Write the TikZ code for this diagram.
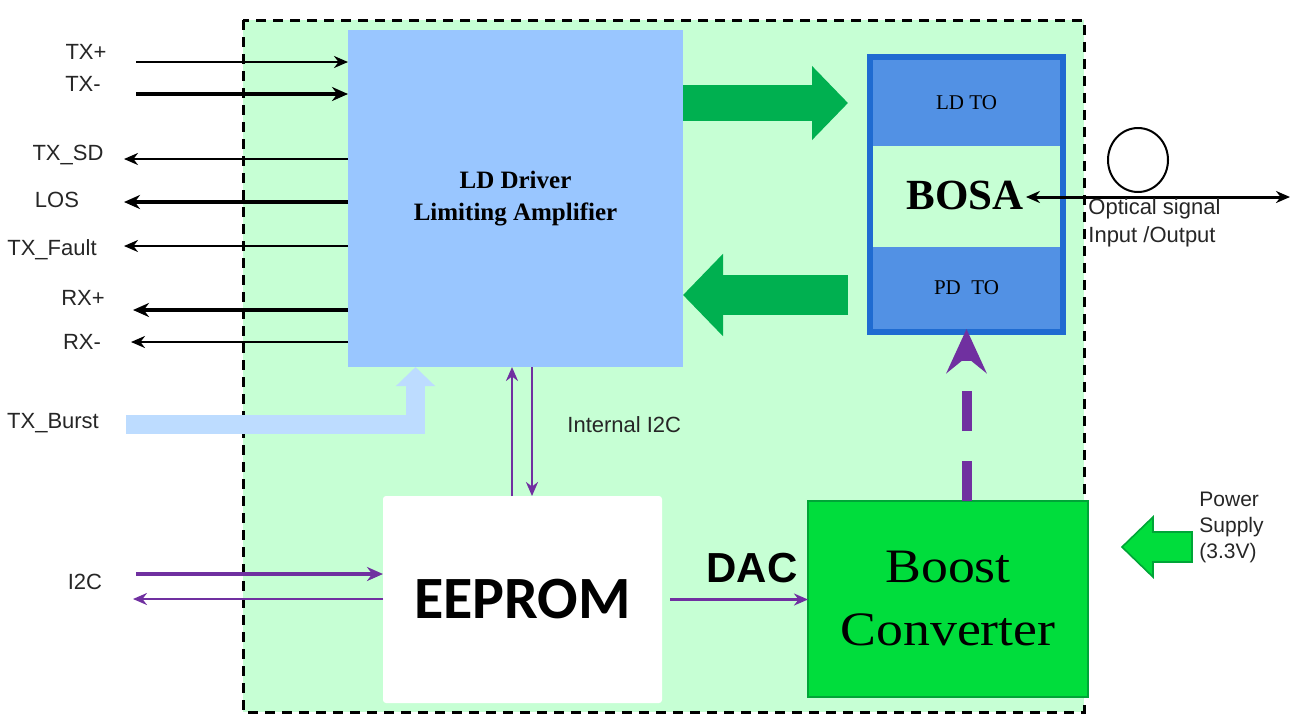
\documentclass[tikz,border=0pt]{standalone}
\usepackage{fontspec}
\setmainfont{Liberation Serif}
\setsansfont{Liberation Sans}
\newfontfamily\calibfont{Carlito}
\newfontfamily\breitfont[FakeStretch=1.12]{Liberation Serif}
\usetikzlibrary{arrows.meta,shapes.geometric}

\definecolor{bggreen}{RGB}{198,255,212}
\definecolor{ldblue}{RGB}{153,198,255}
\definecolor{bosablue}{RGB}{31,107,209}
\definecolor{toblue}{RGB}{82,145,228}
\definecolor{pfeilgreen}{RGB}{0,176,80}
\definecolor{burstblue}{RGB}{189,220,255}
\definecolor{lila}{RGB}{112,48,160}
\definecolor{boostgreen}{RGB}{0,221,60}
\definecolor{boostrand}{RGB}{0,165,55}

\tikzset{
  lbl/.style={font=\sffamily\fontsize{11}{14}\selectfont, text=black!85, inner sep=0pt},
  box/.style={rectangle, inner sep=0pt, outer sep=0pt},
  sig/.style={line width=1.3pt, ->},
  sigd/.style={line width=2pt, -{Stealth[length=8pt,width=7pt]}},
  fett/.style={pfeilgreen, -{Triangle[length=#1,width=2*#1]}, line width=#1},
}

\begin{document}
\begin{tikzpicture}[x=0.5pt, y=-0.5pt, >={Stealth[length=7pt,width=6pt]}, line join=miter]
	\useasboundingbox (0,0) rectangle (1307,725);
	% Rahmen
	\draw[fill=bggreen, line width=1.5pt, dash pattern=on 5pt off 3.5pt] (243,20) rectangle (1084,712);
	% Bloecke
	\node[box, fill=ldblue, minimum width=167.5pt, minimum height=168.5pt, align=center,
		font=\bfseries\fontsize{12.5}{16}\selectfont] (ld) at (515.5,198.5) {LD Driver\\Limiting Amplifier};
	\node[box, draw=bosablue, line width=3pt, fill=bggreen, minimum width=96.5pt, minimum height=137.5pt] (bosa) at (966.5,194.5) {};
	\node[box, fill=toblue, minimum width=93.5pt, minimum height=43pt, font=\fontsize{10.5}{12}\selectfont] (ldto) at (966.5,103) {LD TO};
	\node[box, fill=toblue, minimum width=93.5pt, minimum height=41pt, font=\fontsize{10.5}{12}\selectfont] (pdto) at (966.5,288) {PD\ \ TO};
	\node[inner sep=1pt, font=\bfseries\fontsize{21.5}{24}\selectfont] (bosatxt) at (965,195) {BOSA};
	\node[box, fill=white, rounded corners=1.5pt, minimum width=139.5pt, minimum height=103.5pt,
		font=\calibfont\bfseries\fontsize{30}{36}\selectfont] (eeprom) at (522.5,599.5) {EEPROM};
	\node[box, draw=boostrand, line width=1pt, fill=boostgreen, minimum width=140pt, minimum height=98pt, align=center,
		font=\breitfont\fontsize{24}{31.5}\selectfont] (boost) at (948,599) {Boost\\Converter};
	% Eingaenge
	\foreach \n/\t/\lx/\ly/\ay/\s in {txp/TX+/86/52/62/sig, txn/TX-/83/84/94/sigd}{
		\node[lbl] (\n) at (\lx,\ly) {\t};
		\coordinate (\n-a) at (136,\ay);
		\draw[\s] (\n-a) -- (\n-a -| ld.west);
	}
	% Ausgaenge
	\foreach \n/\t/\lx/\ly/\ay/\ax/\s in {txsd/TX\_SD/68/155/159/124/sig, los/LOS/57/200/202/124/sigd,
		txf/TX\_Fault/52/250/246/124/sig, rxp/RX+/83/298/310/133/sigd, rxn/RX-/82/342/342/131/sig}{
		\node[lbl] (\n) at (\lx,\ly) {\t};
		\coordinate (\n-a) at (\ax,\ay);
		\draw[\s] (\n-a -| ld.west) -- (\n-a);
	}
	% TX_Burst
	\node[lbl] (burst) at (53,423) {TX\_Burst};
	\coordinate (burst-a) at (126,424.5);
	\draw[burstblue, line width=9.5pt, -{Triangle[length=9.5pt,width=19pt]}] (burst-a) -| ([xshift=-50pt]ld.south);
	% gruene Pfeile
	\draw[fett=18pt, shorten >=12.5pt] (ld.east |- ldto.west) -- (ldto.west);
	\coordinate (rueck) at ([yshift=-3.5pt]pdto.west);
	\draw[fett=20pt, shorten <=12.5pt] (rueck) -- (rueck -| ld.east);
	% Optik
	\node[draw, ellipse, line width=1pt, minimum width=30pt, minimum height=32pt, inner sep=0pt] (schlaufe) at (1138,160) {};
	\coordinate (faser) at (1290,197);
	\draw[line width=1.5pt, <->] (bosatxt.east |- faser) -- (faser);
	\node[lbl, anchor=west, align=left] (optik) at (1088,223) {Optical signal\\Input /Output};
	% I2C
	\node[lbl] (i2c) at (85,582) {I2C};
	\coordinate (i2c-in) at (136,574);
	\coordinate (i2c-out) at (133,599);
	\draw[lila, sigd] (i2c-in) -- (i2c-in -| eeprom.west);
	\draw[lila, sig] (i2c-out -| eeprom.west) -- (i2c-out);
	\coordinate (i2c-hoch) at ([xshift=-5.25pt]eeprom.north);
	\coordinate (i2c-runter) at ([xshift=4.75pt]eeprom.north);
	\draw[lila, sig] (i2c-hoch) -- (i2c-hoch |- ld.south);
	\draw[lila, sig] (i2c-runter |- ld.south) -- (i2c-runter);
	\node[lbl, anchor=west] (intern) at (567,425) {Internal I2C};
	% DAC
	\node[font=\sffamily\bfseries\fontsize{21}{24}\selectfont, inner sep=0pt] (dac) at (752,568) {DAC};
	\draw[lila, line width=1.7pt, ->, shorten <=4pt] (eeprom.east) -- (eeprom.east -| boost.west);
	\draw[lila, line width=5pt, dash pattern=on 20pt off 15pt, -{Stealth[length=22pt,width=20pt,inset=8pt]}]
		(pdto.south |- boost.north) -- (pdto.south);
	% Versorgung
	\filldraw[fill=boostgreen, draw=boostrand, line width=0.8pt] (1192,532) -- (1153,532) -- (1153,517) -- (1122,547)
		-- (1153,577) -- (1153,562) -- (1192,562) -- cycle;
	\node[lbl, anchor=west, align=left, font=\sffamily\fontsize{10.5}{13}\selectfont] (power) at (1199,527) {Power\\Supply\\(3.3V)};
\end{tikzpicture}
\end{document}
